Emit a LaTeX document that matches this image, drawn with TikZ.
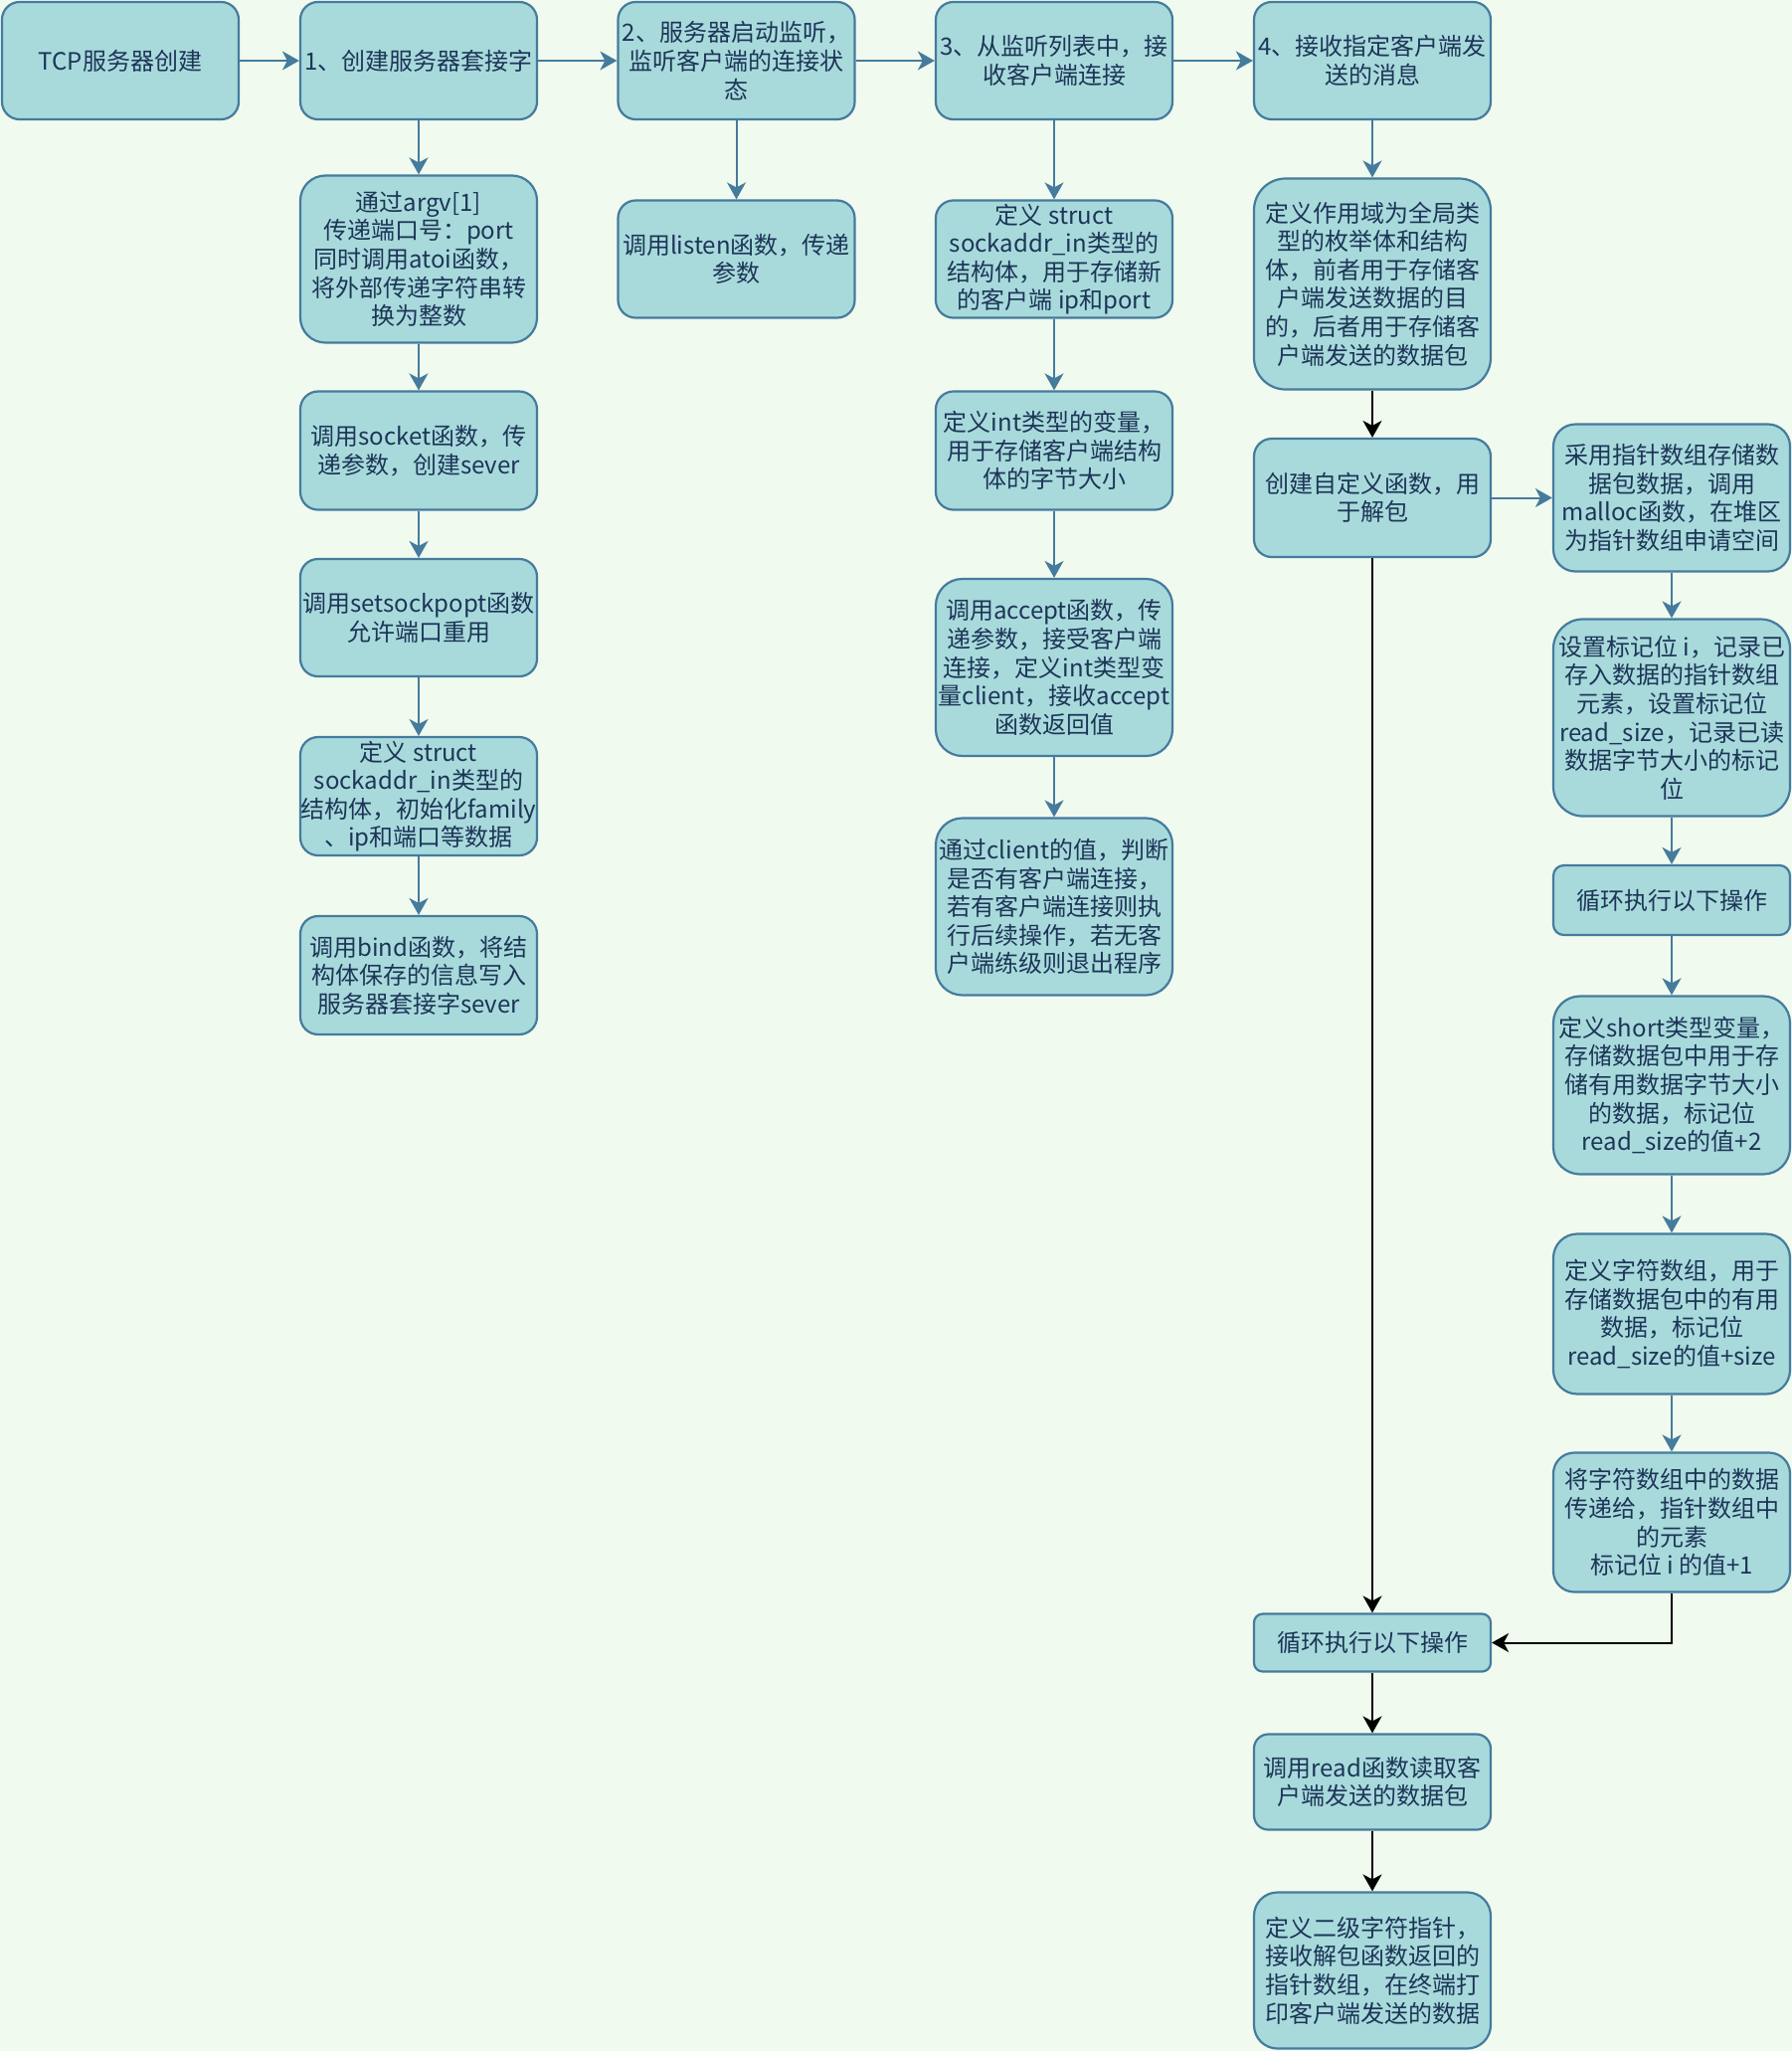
\documentclass[tikz,border=0pt]{standalone}
\usepackage{fontspec}
\setmainfont{Noto Sans CJK SC}
\usetikzlibrary{arrows.meta}
\definecolor{bgc}{HTML}{F1FAEE}
\definecolor{fillc}{HTML}{A8DADC}
\definecolor{strokec}{HTML}{457B9D}
\definecolor{textc}{HTML}{1D3557}
\tikzset{
  box/.style={draw=strokec, fill=fillc, line width=1.1pt, text=textc, align=center,
    inner sep=0pt, font=\fontsize{12pt}{14.3pt}\selectfont},
  bl/.style={draw=strokec, line width=1pt, -{Stealth[length=8.5pt,width=9.5pt,inset=2.5pt]}},
  bk/.style={draw=black, line width=1pt, -{Stealth[length=8.5pt,width=9.5pt,inset=2.5pt]}}
}
\newcommand{\bx}[6]{%
  \pgfmathsetmacro\myrr{0.075*min(#4,#5)}%
  \pgfmathsetmacro\myww{#4*0.5}%
  \pgfmathsetmacro\myhh{#5*0.5}%
  \node[box, minimum width=\myww pt, minimum height=\myhh pt, rounded corners=\myrr pt] (#1) at (#2,#3) {#6};}
\begin{document}
\begin{tikzpicture}[x=0.5pt,y=-0.5pt]
\fill[bgc] (0,0) rectangle (1802,2062);
\useasboundingbox (0,0) rectangle (1802,2062);
% top row
\bx{tcp}{121}{61}{238}{118}{TCP服务器创建}
\bx{b1}{421}{61}{238}{118}{1、创建服务器套接字}
\bx{b2}{740.5}{61}{238}{118}{2、服务器启动监听，\\监听客户端的连接状\\态}
\bx{b3}{1060}{61}{238}{118}{3、从监听列表中，接\\收客户端连接}
\bx{b4}{1380}{61}{238}{118}{4、接收指定客户端发\\送的消息}
% column 1
\bx{argv}{421}{260.5}{238}{168}{通过argv[1]\\传递端口号：port\\同时调用atoi函数，\\将外部传递字符串转\\换为整数}
\bx{sock}{421}{453}{238}{119}{调用socket函数，传\\递参数，创建sever}
\bx{sopt}{421}{621}{238}{118}{调用setsockpopt函数\\允许端口重用}
\bx{st1}{421}{800.5}{238}{119}{定义 struct\\sockaddr\_in类型的\\结构体，初始化family\\、ip和端口等数据}
\bx{bind}{421}{980.5}{238}{119}{调用bind函数，将结\\构体保存的信息写入\\服务器套接字sever}
% column 2
\bx{lis}{740.5}{260.5}{238}{118}{调用listen函数，传递\\参数}
% column 3
\bx{st3}{1060}{260.5}{238}{118}{定义 struct\\sockaddr\_in类型的\\结构体，用于存储新\\的客户端 ip和port}
\bx{intv}{1060}{453}{238}{119}{定义int类型的变量，\\用于存储客户端结构\\体的字节大小}
\bx{acc}{1060}{671}{238}{178}{调用accept函数，传\\递参数，接受客户端\\连接，定义int类型变\\量client，接收accept\\函数返回值}
\bx{cli}{1060}{911.5}{238}{178}{通过client的值，判断\\是否有客户端连接，\\若有客户端连接则执\\行后续操作，若无客\\户端练级则退出程序}
% column 4
\bx{glob}{1380}{285.5}{238}{212}{定义作用域为全局类\\型的枚举体和结构\\体，前者用于存储客\\户端发送数据的目\\的，后者用于存储客\\户端发送的数据包}
\bx{cre}{1380}{500.5}{238}{119}{创建自定义函数，用\\于解包}
\bx{lp4}{1380}{1651.5}{238}{58}{循环执行以下操作}
\bx{rd}{1380}{1791.5}{238}{96}{调用read函数读取客\\户端发送的数据包}
\bx{def}{1380}{1981}{238}{157}{定义二级字符指针，\\接收解包函数返回的\\指针数组，在终端打\\印客户端发送的数据}
% column 5
\bx{ptr}{1681}{500.5}{238}{148}{采用指针数组存储数\\据包数据，调用\\malloc函数，在堆区\\为指针数组申请空间}
\bx{mark}{1681}{721.5}{238}{198}{设置标记位 i，记录已\\存入数据的指针数组\\元素，设置标记位\\read\_size，记录已读\\数据字节大小的标记\\位}
\bx{lp5}{1681}{905}{238}{70}{循环执行以下操作}
\bx{sht}{1681}{1091}{238}{179}{定义short类型变量，\\存储数据包中用于存\\储有用数据字节大小\\的数据，标记位\\read\_size的值+2}
\bx{chr}{1681}{1321}{238}{161}{定义字符数组，用于\\存储数据包中的有用\\数据，标记位\\read\_size的值+size}
\bx{trf}{1681}{1530.5}{238}{140}{将字符数组中的数据\\传递给，指针数组中\\的元素\\标记位 i 的值+1}
% connectors
\draw[bl] (tcp) -- (b1);
\draw[bl] (b1) -- (b2);
\draw[bl] (b2) -- (b3);
\draw[bl] (b3) -- (b4);
\draw[bl] (b1) -- (argv);
\draw[bl] (argv) -- (sock);
\draw[bl] (sock) -- (sopt);
\draw[bl] (sopt) -- (st1);
\draw[bl] (st1) -- (bind);
\draw[bl] (b2) -- (lis);
\draw[bl] (b3) -- (st3);
\draw[bl] (st3) -- (intv);
\draw[bl] (intv) -- (acc);
\draw[bl] (acc) -- (cli);
\draw[bl] (b4) -- (glob);
\draw[bk] (glob) -- (cre);
\draw[bk] (cre) -- (lp4);
\draw[bl] (cre) -- (ptr);
\draw[bl] (ptr) -- (mark);
\draw[bl] (mark) -- (lp5);
\draw[bl] (lp5) -- (sht);
\draw[bl] (sht) -- (chr);
\draw[bl] (chr) -- (trf);
\draw[bk] (trf.south) |- (lp4.east);
\draw[bk] (lp4) -- (rd);
\draw[bk] (rd) -- (def);
\end{tikzpicture}
\end{document}
